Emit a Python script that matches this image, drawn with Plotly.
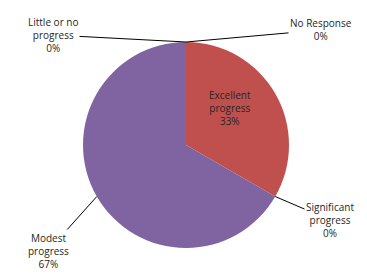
import math
import plotly.graph_objects as go

categories = ["Excellent progress", "Significant progress", "Modest progress",
              "Little or no progress", "No Response"]
values = [1, 0, 2, 0, 0]
colors = ["#C0504D", "#9BBB59", "#8064A2", "#4BACC6", "#F79646"]

W, H = 367, 274
CX, CY, R = 178, 137, 103  # pie centre / radius in pixels

fig = go.Figure(go.Pie(
    labels=categories, values=values, sort=False, direction="clockwise",
    rotation=0, marker=dict(colors=colors, line=dict(width=0)),
    textinfo="none", hoverinfo="label+percent", showlegend=False,
    domain=dict(x=[(CX - R) / W, (CX + R) / W], y=[1 - (CY + R) / H, 1 - (CY - R) / H]),
))

total = sum(values)
label_pos = {
    "Excellent progress": (245, 100, False),
    "Significant progress": (322, 212, True),
    "Modest progress": (40, 243, True),
    "Little or no progress": (45, 27, True),
    "No Response": (313, 22, True),
}

FONT = dict(family="Open Sans, Liberation Sans", size=10, color="#262626")
cum = 0
for cat, v in zip(categories, values):
    mid = (cum + v / 2) / total * 2 * math.pi
    cum += v
    px = CX + R * math.sin(mid)
    py = CY - R * math.cos(mid)
    pct = round(100 * v / total)
    words = cat.split(" ")
    if cat == "No Response":
        txt = f"{cat}<br>{pct}%"
    elif cat == "Little or no progress":
        txt = f"Little or no<br>progress<br>{pct}%"
    else:
        txt = f"{words[0]}<br>{' '.join(words[1:])}<br>{pct}%"
    lx, ly, leader = label_pos[cat]
    if leader:
        fig.add_annotation(x=px / W, y=1 - py / H, xref="paper", yref="paper",
                           ax=lx - px, ay=ly - py, axref="pixel", ayref="pixel",
                           text=txt, showarrow=True, arrowhead=0, arrowwidth=1,
                           arrowcolor="#000000", standoff=0, startstandoff=0,
                           font=FONT, align="center")
    else:
        fig.add_annotation(x=lx / W, y=1 - ly / H, xref="paper", yref="paper",
                           text=txt, showarrow=False, font=FONT, align="center")

fig.update_layout(width=W, height=H, margin=dict(l=0, r=0, t=0, b=0),
                  paper_bgcolor="white", plot_bgcolor="white")
fig.write_html("out.html")
